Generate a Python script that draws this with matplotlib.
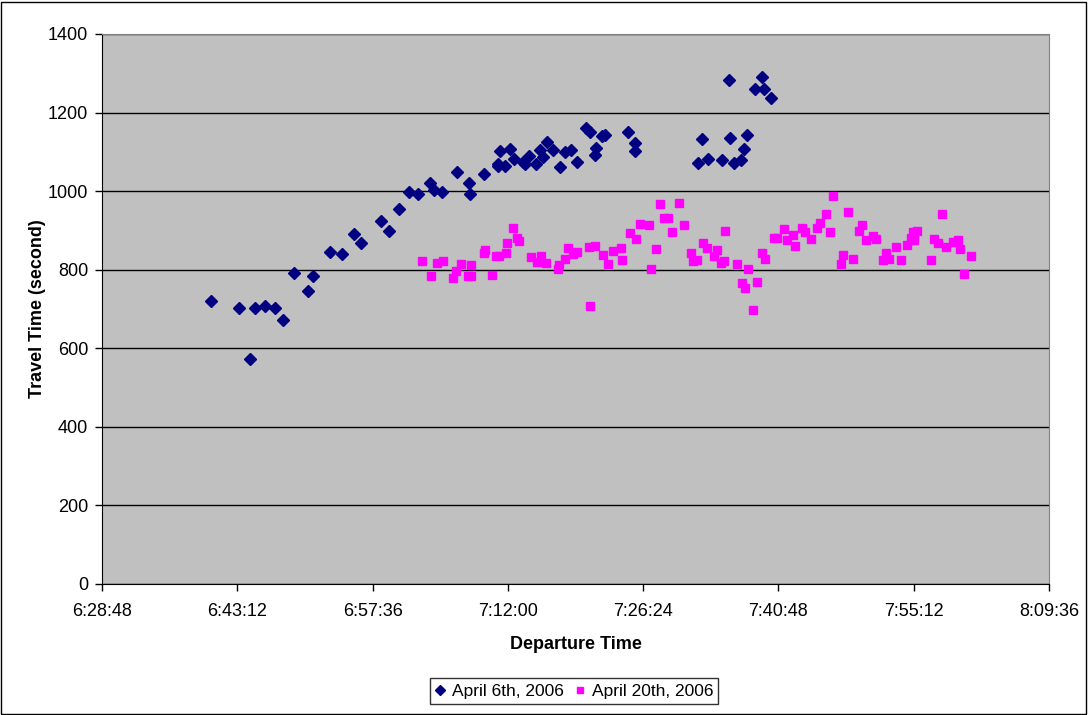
import matplotlib
matplotlib.use('Agg')
import matplotlib.pyplot as plt
import matplotlib.ticker as mticker
from matplotlib.patches import Rectangle

plt.rcParams['font.family'] = ['Liberation Sans', 'DejaVu Sans']

# April 6th, 2006
apr6_time = ['6:40:22', '6:43:21', '6:44:31', '6:45:07', '6:46:11', '6:47:13', '6:48:06',
             '6:49:14', '6:50:45', '6:51:15', '6:53:04', '6:54:21', '6:55:37', '6:56:22',
             '6:58:30', '6:59:23', '7:00:27', '7:01:28', '7:02:24', '7:03:43', '7:04:10',
             '7:05:01', '7:06:33', '7:07:52', '7:08:00', '7:09:29', '7:10:59', '7:10:59',
             '7:11:08', '7:11:43', '7:12:12', '7:12:39', '7:13:35', '7:13:49', '7:14:17',
             '7:14:59', '7:15:25', '7:15:46', '7:16:08', '7:16:46', '7:17:33', '7:18:05',
             '7:18:43', '7:19:21', '7:20:19', '7:20:44', '7:21:16', '7:21:25', '7:21:59',
             '7:22:20', '7:24:49', '7:25:34', '7:25:34', '7:32:16', '7:32:41', '7:33:18',
             '7:34:45', '7:35:30', '7:35:40', '7:36:06', '7:36:52', '7:37:10', '7:37:27',
             '7:38:20', '7:39:05', '7:39:15', '7:39:58']
apr6_travel = [720, 702, 573, 702, 708, 702, 673,
               791, 747, 784, 845, 840, 891, 868,
               923, 898, 954, 997, 993, 1022, 1003,
               997, 1050, 1022, 993, 1043, 1070, 1065,
               1103, 1065, 1108, 1082, 1073, 1068, 1089,
               1068, 1105, 1087, 1126, 1104, 1061, 1100,
               1104, 1073, 1160, 1151, 1093, 1109, 1140,
               1144, 1150, 1123, 1103, 1072, 1133, 1082,
               1080, 1282, 1136, 1072, 1079, 1108, 1143,
               1261, 1290, 1261, 1236]

# April 20th, 2006
apr20_time = ['7:02:53', '7:03:47', '7:04:30', '7:05:07', '7:06:08', '7:06:30', '7:07:02',
              '7:07:48', '7:08:03', '7:08:05', '7:09:27', '7:09:36', '7:10:18', '7:10:46',
              '7:11:05', '7:11:48', '7:11:56', '7:12:33', '7:12:58', '7:13:11', '7:14:29',
              '7:15:04', '7:15:30', '7:16:05', '7:17:20', '7:17:28', '7:18:03', '7:18:22',
              '7:18:58', '7:19:23', '7:20:36', '7:20:42', '7:21:19', '7:22:05', '7:22:39',
              '7:23:09', '7:24:00', '7:24:09', '7:25:00', '7:25:38', '7:26:04', '7:26:59',
              '7:27:16', '7:27:44', '7:28:09', '7:28:39', '7:29:02', '7:29:30', '7:30:15',
              '7:30:43', '7:31:27', '7:31:44', '7:32:10', '7:32:46', '7:33:13', '7:33:56',
              '7:34:13', '7:34:43', '7:35:00', '7:35:08', '7:36:21', '7:36:57', '7:37:12',
              '7:37:33', '7:38:05', '7:38:33', '7:39:01', '7:39:20', '7:40:19', '7:40:38',
              '7:41:23', '7:41:42', '7:42:19', '7:42:35', '7:43:18', '7:43:37', '7:44:14',
              '7:44:56', '7:45:15', '7:45:51', '7:46:17', '7:46:36', '7:47:29', '7:47:38',
              '7:48:12', '7:48:42', '7:49:24', '7:49:43', '7:50:09', '7:50:53', '7:51:13',
              '7:51:57', '7:52:15', '7:52:32', '7:53:16', '7:53:52', '7:54:29', '7:54:54',
              '7:55:05', '7:55:13', '7:55:32', '7:57:00', '7:57:19', '7:57:45', '7:58:10',
              '7:58:40', '7:59:20', '7:59:52', '8:00:07', '8:00:35', '8:01:19']
apr20_travel = [821, 785, 817, 821, 778, 797, 814,
                785, 811, 785, 842, 850, 786, 835,
                835, 842, 867, 906, 882, 874, 832,
                819, 836, 817, 803, 811, 828, 856,
                839, 846, 857, 708, 860, 838, 814,
                847, 856, 825, 893, 879, 917, 915,
                803, 853, 967, 931, 931, 895, 970,
                914, 842, 821, 825, 867, 856, 835,
                850, 818, 821, 899, 814, 767, 753,
                803, 697, 768, 842, 828, 881, 880,
                903, 875, 889, 860, 907, 895, 878,
                907, 918, 942, 895, 988, 814, 838,
                946, 828, 899, 914, 875, 887, 878,
                825, 843, 828, 857, 825, 864, 881,
                895, 875, 899, 825, 878, 867, 942,
                857, 871, 875, 853, 789, 836]

x_ticks = ['6:28:48', '6:43:12', '6:57:36', '7:12:00', '7:26:24', '7:40:48', '7:55:12', '8:09:36']


def to_sec(s):
    h, m, sec = s.split(':')
    return int(h) * 3600 + int(m) * 60 + int(sec)


def fmt_time(v, pos=None):
    v = int(round(v))
    return f'{v // 3600}:{(v % 3600) // 60:02d}:{v % 60:02d}'


fig = plt.figure(figsize=(10.88, 7.15), dpi=100)
ax = fig.add_axes([102 / 1088, 1 - 584 / 715, (1049 - 102) / 1088, (584 - 34) / 715])
ax.set_facecolor('#C0C0C0')

ax.plot([to_sec(t) for t in apr6_time], apr6_travel, ls='none', marker='D', ms=6.2,
        color='#000080', label='April 6th, 2006', zorder=3)
ax.plot([to_sec(t) for t in apr20_time], apr20_travel, ls='none', marker='s', ms=6,
        color='#FF00FF', label='April 20th, 2006', zorder=3)

tick_pos = [to_sec(t) for t in x_ticks]
ax.set_xlim(tick_pos[0], tick_pos[-1])
ax.set_xticks(tick_pos)
ax.xaxis.set_major_formatter(mticker.FuncFormatter(fmt_time))
ax.set_ylim(0, 1400)
ax.set_yticks(range(0, 1401, 200))
ax.yaxis.grid(True, color='black', lw=1)
ax.set_axisbelow(True)

for side in ['top', 'right']:
    ax.spines[side].set_color('#808080')
for side in ['left', 'bottom']:
    ax.spines[side].set_color('black')
ax.tick_params(direction='out', length=5, width=1, labelsize=13, color='black')
ax.tick_params(axis='x', pad=9)
ax.tick_params(axis='y', pad=5)

ax.set_xlabel('Departure Time', fontsize=13, fontweight='bold', labelpad=11)
ax.set_ylabel('Travel Time (second)', fontsize=13, fontweight='bold', labelpad=1)

leg = fig.legend(loc='center', bbox_to_anchor=(574 / 1088, 1 - 691 / 715), ncol=2,
                 fontsize=12.5, frameon=True, fancybox=False, edgecolor='black',
                 handlelength=0.6, handletextpad=0.4, columnspacing=0.6,
                 borderpad=0.3, markerscale=0.75)
leg.get_frame().set_linewidth(1)

fig.patches.append(Rectangle((0.001, 0.002), 0.997, 0.995, transform=fig.transFigure,
                             fill=False, edgecolor='black', lw=1))

fig.savefig('out.png', dpi=100)
